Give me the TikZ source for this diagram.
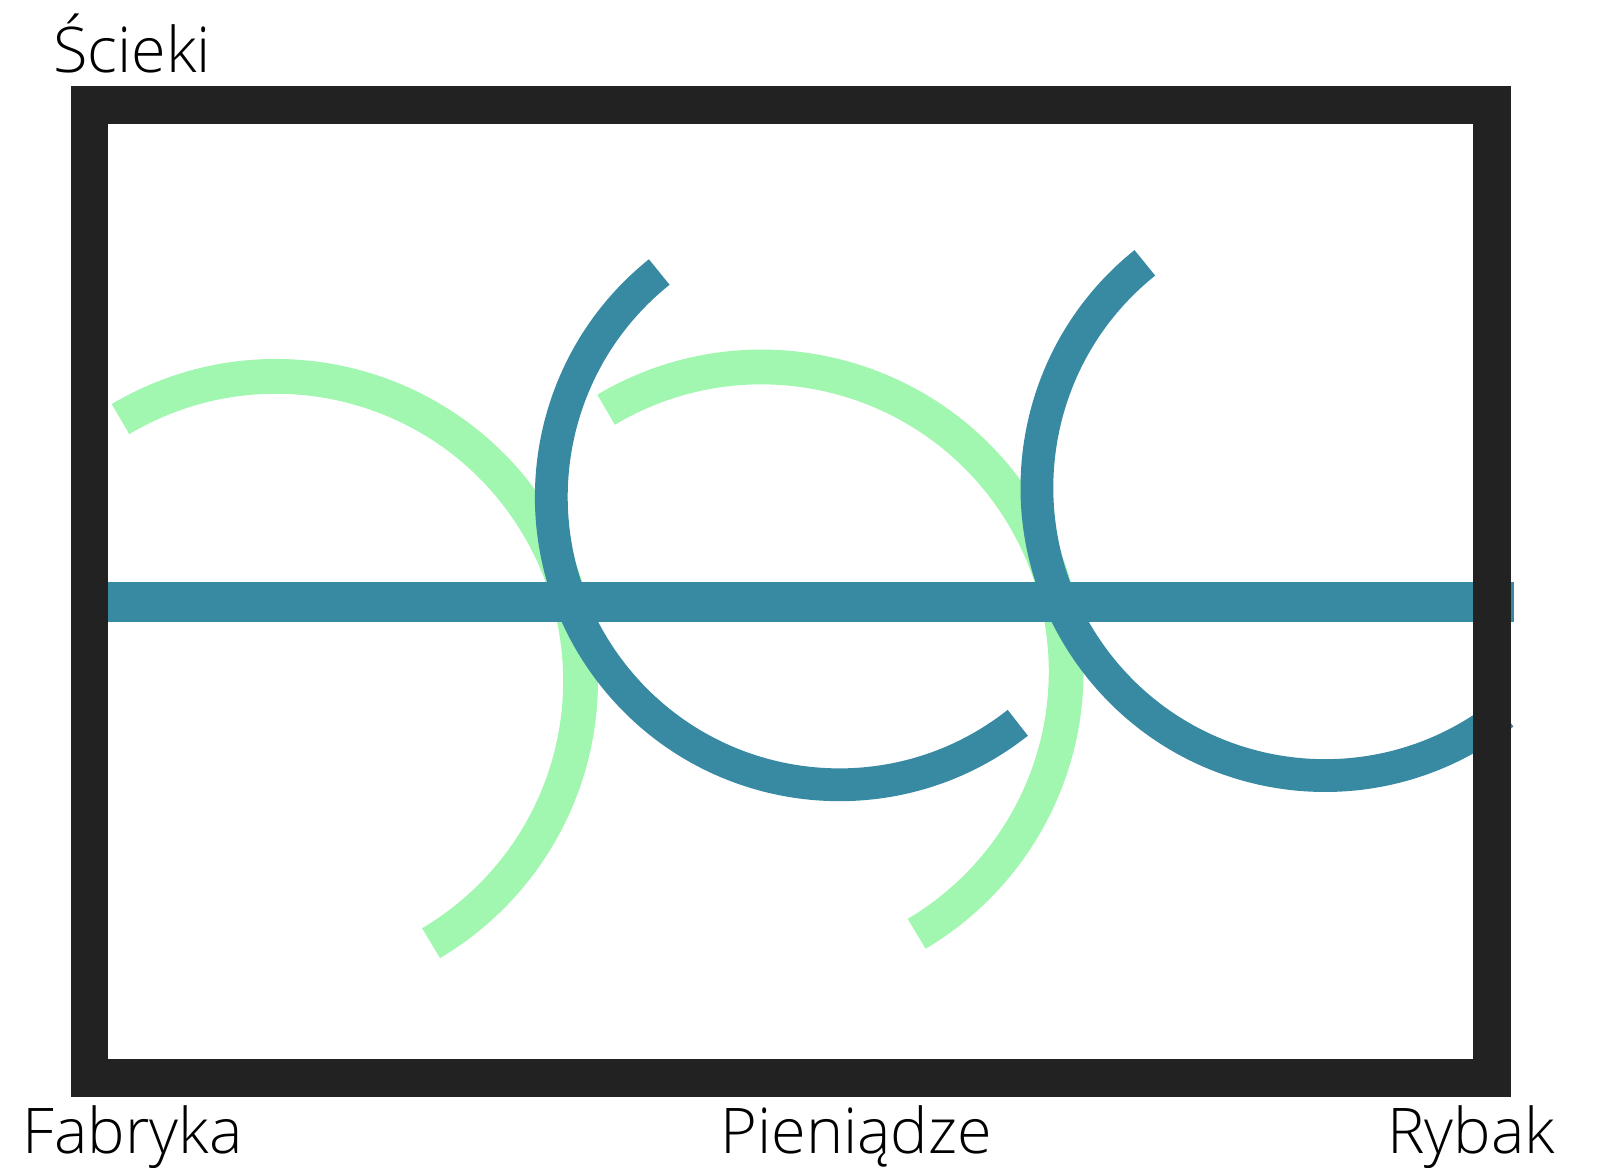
\documentclass[tikz,border=0pt]{standalone}
\usepackage{fontspec}
\setmainfont{Open Sans}[UprightFont={* Light}]
\definecolor{framegray}{HTML}{222222}
\definecolor{flowgreen}{HTML}{A1F7B0}
\definecolor{flowblue}{HTML}{378AA2}
\begin{document}
\begin{tikzpicture}[x=0.5pt, y=0.5pt,
    label/.style={anchor=base west, inner sep=0pt, font=\fontsize{31.5}{38}\selectfont},
    greenarc/.style={flowgreen, line width=17.4pt},
    bluearc/.style={flowblue, line width=16.4pt}]
    \useasboundingbox (0,0) rectangle (1603,1168);
    \coordinate (g1) at (276,487);
    \coordinate (g2) at (761.6,496.4);
    \coordinate (b1) at (839.3,671.2);
    \coordinate (b2) at (1324.9,680.4);
    \draw[greenarc] (g1) ++(120.7:304.6) arc[start angle=120.7, end angle=-59.4, radius=304.6];
    \draw[greenarc] (g2) ++(120.7:304.6) arc[start angle=120.7, end angle=-59.4, radius=304.6];
    \draw[bluearc] (b1) ++(128.7:288) arc[start angle=128.7, end angle=308.3, radius=288];
    \draw[bluearc] (b2) ++(128.7:288) arc[start angle=128.7, end angle=308.3, radius=288];
    \coordinate (barl) at (89.5,566.4);
    \coordinate (barr) at (1514,566.4);
    \draw[flowblue, line width=20pt] (barl) -- (barr);
    \draw[framegray, line width=18.9pt] (89.5,1062.7) rectangle (1492,90);
    \node[label] (scieki) at (53,1095.4) {Ścieki};
    \node[label] (fabryka) at (22.5,14) {Fabryka};
    \node[label] (pieniadze) at (720,14) {Pieniądze};
    \node[label] (rybak) at (1387,14) {Rybak};
\end{tikzpicture}
\end{document}
